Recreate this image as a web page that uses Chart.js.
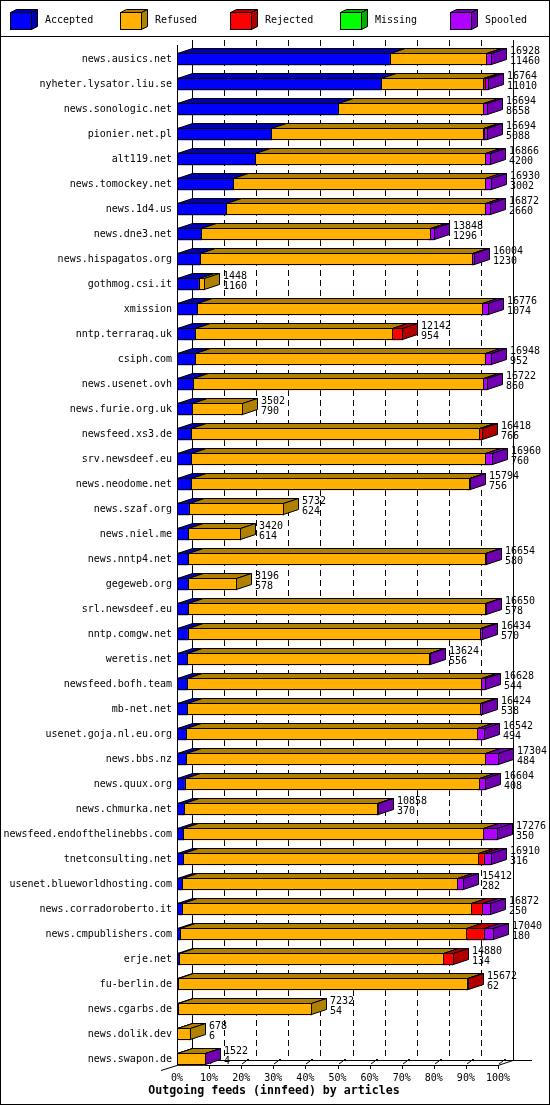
<!DOCTYPE html>
<html>
<head>
<meta charset="utf-8">
<style>
html, body { margin: 0; padding: 0; background: #fff; }
canvas { display: block; }
</style>
<script src="https://cdn.jsdelivr.net/npm/chart.js@4.4.1/dist/chart.umd.min.js"></script>
</head>
<body>
<canvas id="feeds" width="550" height="1105"></canvas>
<script>
const servers = [
  'news.ausics.net', 'nyheter.lysator.liu.se', 'news.sonologic.net', 'pionier.net.pl',
  'alt119.net', 'news.tomockey.net', 'news.1d4.us', 'news.dne3.net', 'news.hispagatos.org',
  'gothmog.csi.it', 'xmission', 'nntp.terraraq.uk', 'csiph.com', 'news.usenet.ovh',
  'news.furie.org.uk', 'newsfeed.xs3.de', 'srv.newsdeef.eu', 'news.neodome.net',
  'news.szaf.org', 'news.niel.me', 'news.nntp4.net', 'gegeweb.org', 'srl.newsdeef.eu',
  'nntp.comgw.net', 'weretis.net', 'newsfeed.bofh.team', 'mb-net.net', 'usenet.goja.nl.eu.org',
  'news.bbs.nz', 'news.quux.org', 'news.chmurka.net', 'newsfeed.endofthelinebbs.com',
  'tnetconsulting.net', 'usenet.blueworldhosting.com', 'news.corradoroberto.it',
  'news.cmpublishers.com', 'erje.net', 'fu-berlin.de', 'news.cgarbs.de', 'news.dolik.dev',
  'news.swapon.de'
];

// offered articles (first number next to each bar)
const totals = [
  16928, 16764, 16694, 16694, 16866, 16930, 16872, 13848, 16004, 1448, 16776, 12142, 16948,
  16722, 3502, 16418, 16960, 15794, 5732, 3420, 16654, 3196, 16650, 16434, 13624, 16628,
  16424, 16542, 17304, 16604, 10858, 17276, 16910, 15412, 16872, 17040, 14880, 15672,
  7232, 678, 1522
];

const accepted = [
  11460, 11010, 8658, 5088, 4200, 3002, 2660, 1296, 1230, 1160, 1074, 954, 952, 860, 790,
  766, 760, 756, 624, 614, 580, 578, 578, 570, 556, 544, 538, 494, 484, 408, 370, 350, 316,
  282, 250, 180, 134, 62, 54, 6, 4
];

const refused = [
  5208, 5504, 7816, 11386, 12424, 13592, 13917, 12322, 14694, 288, 15365, 10640, 15625,
  15618, 2712, 15500, 15834, 14973, 5108, 2806, 16014, 2618, 16017, 15774, 13018, 15826,
  15796, 15668, 16110, 15858, 10438, 16158, 15898, 14807, 15601, 15411, 14194, 15560,
  7178, 672, 1488
];

const rejected = [
  0, 90, 0, 100, 0, 0, 0, 0, 0, 0, 0, 548, 0, 0, 0, 152, 0, 0, 0, 0, 0, 0, 0, 0, 0, 0,
  0, 0, 0, 0, 0, 0, 311, 0, 571, 934, 552, 50, 0, 0, 0
];

const missing = [
  0, 0, 0, 0, 0, 0, 0, 0, 0, 0, 0, 0, 0, 0, 0, 0, 0, 0, 0, 0, 0, 0, 0, 0, 0, 0,
  0, 0, 0, 0, 0, 0, 0, 0, 0, 0, 0, 0, 0, 0, 0
];

const spooled = [
  260, 160, 220, 120, 242, 336, 295, 230, 80, 0, 337, 0, 371, 244, 0, 0, 366, 65, 0, 0,
  60, 0, 55, 90, 50, 258, 90, 380, 710, 338, 50, 768, 385, 323, 450, 515, 0, 0, 0, 0, 30
];

const xTickLabels = ['0%', '10%', '20%', '30%', '40%', '50%', '60%', '70%', '80%', '90%', '100%'];

const seriesNames = ['Accepted', 'Refused', 'Rejected', 'Missing', 'Spooled'];
const frontColors = ['#0000ff', '#ffb000', '#ff0000', '#00ff00', '#b000ff'];
const shadeColors = ['#0000b0', '#b08000', '#b00000', '#00b000', '#7000b0'];
const titleText = 'Outgoing feeds (innfeed) by articles';

const maxTotal = Math.max(...totals);
const FONT = 'DejaVu Sans Mono';
const DX = 15, DY = 5, BAR = 12;

function poly(ctx, pts, fill) {
  ctx.beginPath();
  ctx.moveTo(pts[0][0], pts[0][1]);
  for (let i = 1; i < pts.length; i++) ctx.lineTo(pts[i][0], pts[i][1]);
  ctx.closePath();
  if (fill) { ctx.fillStyle = fill; ctx.fill(); }
  ctx.stroke();
}

function seg(ctx, x1, y1, x2, y2) {
  ctx.beginPath();
  ctx.moveTo(x1, y1);
  ctx.lineTo(x2, y2);
  ctx.stroke();
}

const gd3d = {
  id: 'gd3d',
  beforeDraw(chart) {
    const ctx = chart.ctx;
    ctx.save();
    ctx.fillStyle = '#fff';
    ctx.fillRect(0, 0, chart.width, chart.height);
    ctx.restore();
  },
  beforeDatasetsDraw(chart) {
    const ctx = chart.ctx, xs = chart.scales.x, ys = chart.scales.y;
    const top = Math.round(ys.getPixelForValue(0) - BAR / 2 - DY - 8);
    const floor = Math.round(ys.getPixelForValue(servers.length - 1) + BAR / 2);
    const x0 = Math.round(xs.getPixelForValue(0));
    const x100 = Math.round(xs.getPixelForValue(maxTotal));
    ctx.save();
    ctx.strokeStyle = '#000';
    ctx.lineWidth = 1;
    // back wall grid
    xs.ticks.forEach((t, k) => {
      const xb = Math.round(xs.getPixelForValue(t.value)) + DX + 0.5;
      ctx.setLineDash(k === 0 || k === xs.ticks.length - 1 ? [] : [6, 4]);
      seg(ctx, xb, top, xb, floor - DY);
    });
    ctx.setLineDash([]);
    // floor
    seg(ctx, x0 + DX, floor - DY + 0.5, x100 + DX + 19, floor - DY + 0.5);
    seg(ctx, x0, floor + 0.5, x100, floor + 0.5);
    seg(ctx, x100, floor + 0.5, x100 + DX, floor - DY + 0.5);
    seg(ctx, x0 + 0.5, top + DY, x0 + 0.5, floor);
    seg(ctx, x0, floor + 0.5, x0 - 16, floor + 5.5);
    xs.ticks.forEach((t, k) => {
      const xf = Math.round(xs.getPixelForValue(t.value));
      if (k === 0) return;
      seg(ctx, xf + 0.5, floor, xf + 0.5, floor + 4);
      seg(ctx, xf + 1, floor - 1, xf + 5, floor - 4);
      ctx.fillStyle = '#000';
      ctx.fillRect(xf + 6, floor - 6, 2, 2);
    });
    ctx.restore();
  },
  afterDatasetsDraw(chart) {
    const ctx = chart.ctx, xs = chart.scales.x;
    ctx.save();
    ctx.strokeStyle = '#000';
    ctx.lineWidth = 1;
    servers.forEach((name, i) => {
      const parts = [];
      chart.data.datasets.forEach((ds, d) => {
        if (ds.data[i] > 0) parts.push({ d, el: chart.getDatasetMeta(d).data[i] });
      });
      let yc = 0;
      parts.forEach((p, n) => {
        const { x, base, y, height } = p.el.getProps(['x', 'base', 'y', 'height'], true);
        const b = Math.round(base), e = Math.round(x);
        const t = Math.round(y - height / 2), bt = Math.round(y + height / 2);
        yc = y;
        ctx.strokeRect(b + 0.5, t + 0.5, e - b, bt - t - 1);
        poly(ctx, [[b + 0.5, t + 0.5], [b + DX + 0.5, t - DY + 0.5], [e + DX + 0.5, t - DY + 0.5], [e + 0.5, t + 0.5]], shadeColors[p.d]);
        if (n === parts.length - 1) {
          poly(ctx, [[e + 0.5, t + 0.5], [e + DX + 0.5, t - DY + 0.5], [e + DX + 0.5, bt - DY - 0.5], [e + 0.5, bt - 0.5]], shadeColors[p.d]);
        }
      });
      const tx = Math.round(xs.getPixelForValue(totals[i])) + DX + 4;
      ctx.fillStyle = '#000';
      ctx.font = '10px "' + FONT + '"';
      ctx.textAlign = 'left';
      ctx.textBaseline = 'middle';
      ctx.fillText(String(totals[i]), tx, yc - 8);
      ctx.fillText(String(accepted[i]), tx, yc + 2);
    });
    ctx.restore();
  },
  afterDraw(chart) {
    const ctx = chart.ctx;
    ctx.save();
    ctx.strokeStyle = '#000';
    ctx.lineWidth = 1;
    // legend
    chart.data.datasets.forEach((ds, d) => {
      const x = 10 + 110 * d;
      ctx.fillStyle = ds.backgroundColor;
      ctx.fillRect(x, 12, 21, 17);
      ctx.strokeRect(x + 0.5, 12.5, 21, 17);
      poly(ctx, [[x + 0.5, 12.5], [x + 6.5, 9.5], [x + 27.5, 9.5], [x + 21.5, 12.5]], shadeColors[d]);
      poly(ctx, [[x + 21.5, 12.5], [x + 27.5, 9.5], [x + 27.5, 26.5], [x + 21.5, 29.5]], shadeColors[d]);
      ctx.fillStyle = '#000';
      ctx.font = '10px "' + FONT + '"';
      ctx.textAlign = 'left';
      ctx.textBaseline = 'middle';
      ctx.fillText(ds.label, x + 35, 20.5);
    });
    seg(ctx, 0, 36.5, chart.width, 36.5);
    // title
    ctx.fillStyle = '#000';
    ctx.font = 'bold 11.6px "' + FONT + '"';
    ctx.textAlign = 'center';
    ctx.textBaseline = 'middle';
    ctx.fillText(titleText, 274, 1091);
    ctx.strokeRect(0.5, 0.5, chart.width - 1, chart.height - 1);
    ctx.restore();
  }
};

const seriesData = [accepted, refused, rejected, missing, spooled];

Chart.defaults.color = '#000';
Chart.defaults.font.family = FONT;

new Chart(document.getElementById('feeds'), {
  type: 'bar',
  data: {
    labels: servers,
    datasets: seriesNames.map((label, d) => ({
      label,
      data: seriesData[d],
      backgroundColor: frontColors[d],
      borderWidth: 0,
      barThickness: BAR
    }))
  },
  options: {
    indexAxis: 'y',
    responsive: false,
    animation: false,
    layout: { padding: { top: 46.5, left: 0, right: 52, bottom: 19.5 } },
    scales: {
      x: {
        stacked: true,
        min: 0,
        max: maxTotal,
        grid: { display: false, drawTicks: false },
        border: { display: false },
        afterBuildTicks: (scale) => {
          scale.ticks = xTickLabels.map((l, k) => ({ value: maxTotal * k / 10 }));
        },
        afterFit: (scale) => { scale.height = 14; },
        ticks: {
          autoSkip: false,
          maxRotation: 0,
          padding: 1,
          font: { size: 10, family: FONT },
          callback: (v, k) => xTickLabels[k]
        }
      },
      y: {
        stacked: true,
        grid: { display: false, drawTicks: false },
        border: { display: false },
        afterFit: (scale) => { scale.width = 177; },
        ticks: {
          autoSkip: false,
          padding: 5,
          font: { size: 10, family: FONT }
        }
      }
    },
    plugins: {
      legend: { display: false },
      tooltip: { enabled: false },
      title: { display: false }
    }
  },
  plugins: [gd3d]
});
</script>
</body>
</html>
